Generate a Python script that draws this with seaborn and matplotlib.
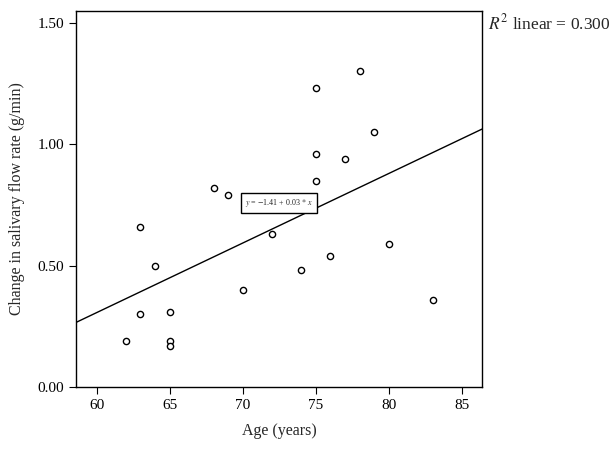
import pandas as pd
import matplotlib
matplotlib.use("Agg")
import matplotlib.pyplot as plt
import seaborn as sns

# values
age = [75, 78, 79, 75, 77, 75, 68, 69, 63, 72, 80, 76, 64, 74, 70, 83, 65, 63, 62, 65, 65]
flow_change = [1.23, 1.30, 1.05, 0.96, 0.94, 0.85, 0.82, 0.79, 0.66, 0.63, 0.59,
               0.54, 0.50, 0.48, 0.40, 0.36, 0.31, 0.30, 0.19, 0.19, 0.17]
x_ticks = [60, 65, 70, 75, 80, 85]
y_ticks = [0.0, 0.5, 1.0, 1.5]
y_tick_labels = ['0.00', '0.50', '1.00', '1.50']

df = pd.DataFrame({'age': age, 'flow': flow_change})

sns.set_style('ticks')
plt.rcParams['font.family'] = ['Liberation Serif', 'DejaVu Serif']
plt.rcParams['mathtext.fontset'] = 'stix'

fig = plt.figure(figsize=(6.12, 4.5), dpi=100)
ax = fig.add_axes([0.124, 0.14, 0.664, 0.836])
ax.set_xlim(58.58, 86.39)
ax.set_ylim(0, 1.55)

sns.regplot(data=df, x='age', y='flow', ax=ax, ci=None, truncate=False,
            scatter_kws={'s': 20, 'facecolors': 'white', 'edgecolors': 'black',
                         'linewidths': 1.0, 'alpha': 1},
            line_kws={'color': 'black', 'linewidth': 1.0}, color='black')

ax.set_xlim(58.58, 86.39)
ax.set_ylim(0, 1.55)
ax.set_xticks(x_ticks)
ax.set_yticks(y_ticks)
ax.set_yticklabels(y_tick_labels)
ax.tick_params(direction='out', length=5, width=0.8, labelsize=11, colors='black')
for s in ax.spines.values():
    s.set_visible(True)
    s.set_linewidth(1.0)
    s.set_color('black')

ax.set_xlabel('Age (years)', fontsize=11.5, labelpad=8)
ax.set_ylabel('Change in salivary flow rate (g/min)', fontsize=11.5, labelpad=9)

ax.text(72.5, 0.76, r'$y$ = $-$1.41 + 0.03 $*$ $x$', fontsize=5.8, ha='center', va='center',
        bbox=dict(boxstyle='square,pad=0.5', facecolor='white', edgecolor='black', linewidth=1.0))

fig.text(0.797, 0.947, r'$R^2$ linear = 0.300', fontsize=12.5, ha='left', va='center')

fig.savefig('out.png', dpi=100)
